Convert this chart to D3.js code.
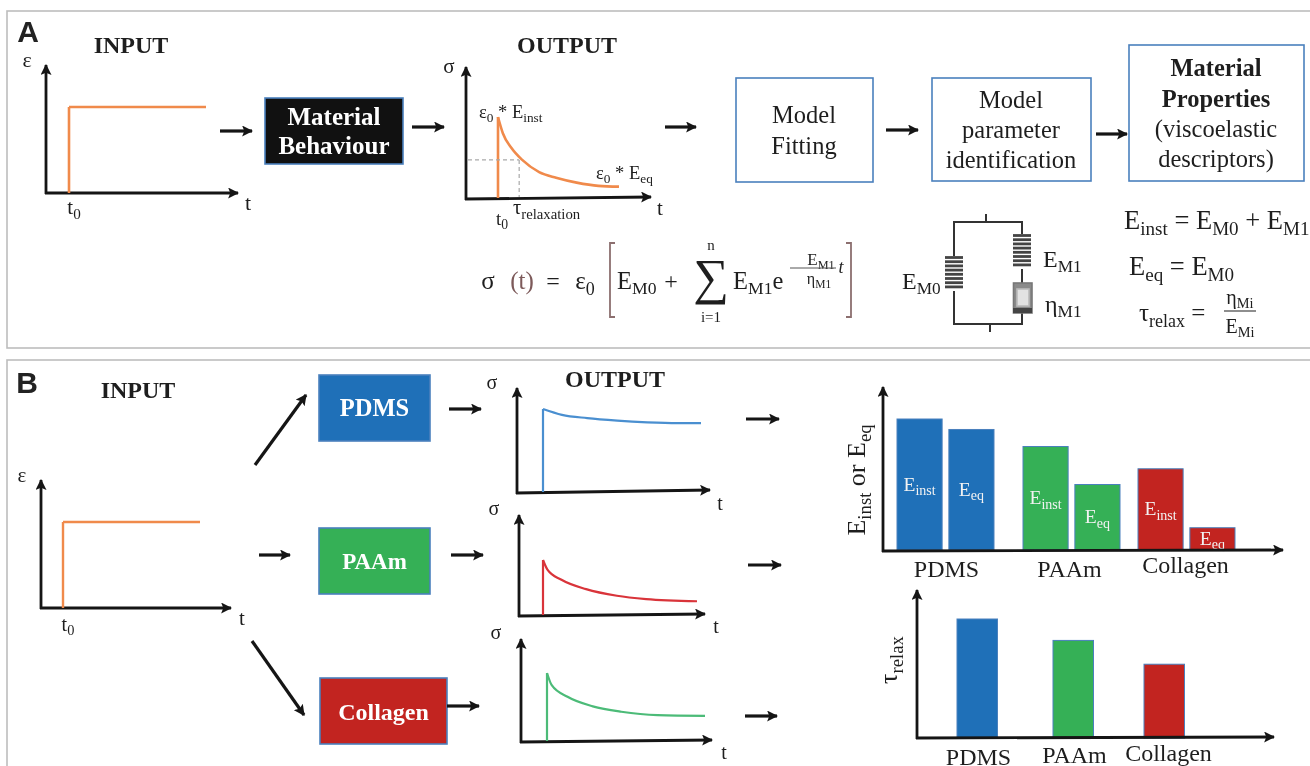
<!DOCTYPE html>
<html>
<head>
<meta charset="utf-8">
<script src="https://cdn.jsdelivr.net/npm/d3@7"></script>
<style>
  html, body { margin: 0; background: #fff; overflow: hidden; }
  svg { display: block; filter: blur(0.5px); }
</style>
</head>
<body>
<div id="chart"></div>
<script>
const materials = ['PDMS', 'PAAm', 'Collagen'];
const materialColors = ['#1f70b8', '#35b056', '#c22420'];

// bar heights, percent of the tallest bar in each chart
const instValues = [100, 79, 62];
const eqValues = [92, 50, 17];
const relaxValues = [100, 82, 62];

// input step, percent of run time / strain
const stepTime = [0, 100];
const stepStrain = [100, 100];

// relaxation curves, percent of run time / peak stress
const modelTime = [0, 4, 11, 20, 34, 48, 65, 83, 100];
const modelStress = [100, 80, 62, 47, 32, 25, 19, 15, 14];
const tauTime = 17.5;
const tauStress = 47;
const pdmsTime = [0, 12, 28, 47, 66, 85, 100];
const pdmsStress = [100, 93, 89, 86, 84, 83, 83];
const paamTime = [0, 3, 12, 28, 48, 67, 100];
const paamStress = [100, 82, 64, 47, 35, 29, 25];
const collagenTime = [0, 3, 13, 29, 47, 70, 100];
const collagenStress = [100, 82, 65, 51, 43, 38, 37];

const INK = '#151515';
const TEXT = '#1e1e1e';
const ORANGE = '#f08a4b';
const BOX_EDGE = '#4a80bd';
const SERIF = '"Liberation Serif", serif';

const svg = d3.select('#chart').append('svg').attr('width', 1310).attr('height', 766);

const defs = svg.append('defs');
defs.append('marker').attr('id', 'head')
  .attr('viewBox', '0 0 10 10').attr('refX', 9).attr('refY', 5)
  .attr('markerWidth', 11).attr('markerHeight', 11)
  .attr('markerUnits', 'userSpaceOnUse').attr('orient', 'auto')
  .append('path').attr('d', 'M0,0L10,5L0,10L2,5Z').attr('fill', INK);

function arrow(x1, y1, x2, y2, width) {
  svg.append('line')
    .attr('x1', x1).attr('y1', y1).attr('x2', x2).attr('y2', y2)
    .attr('stroke', INK).attr('stroke-width', width || 3.2)
    .attr('marker-end', 'url(#head)');
}

// text with subscripts: a part is a string, or [string] for a subscript
function rich(x, y, parts, size, opts) {
  const o = opts || {};
  const text = svg.append('text')
    .attr('x', x).attr('y', y)
    .attr('font-family', o.family || SERIF)
    .attr('font-size', size)
    .attr('font-weight', o.weight || 'normal')
    .attr('text-anchor', o.anchor || 'middle')
    .attr('fill', o.fill || TEXT);
  if (o.rotate) text.attr('transform', `rotate(${o.rotate},${x},${y})`);
  const shift = size * 0.22;
  let low = false;
  [].concat(parts).forEach(part => {
    const isSub = Array.isArray(part);
    const span = text.append('tspan').text(isSub ? part[0] : part);
    if (isSub) span.attr('font-size', size * 0.72);
    if (isSub !== low) span.attr('dy', isSub ? shift : -shift);
    low = isSub;
  });
  return text;
}

function box(x0, y0, x1, y1, fill, edge) {
  svg.append('rect')
    .attr('x', x0).attr('y', y0).attr('width', x1 - x0).attr('height', y1 - y0)
    .attr('fill', fill).attr('stroke', edge || BOX_EDGE).attr('stroke-width', 1.6);
}

// panel frames, both run off the right edge
box(7, 11, 1330, 348, 'none', '#bdbdbd');
box(7, 360, 1330, 790, 'none', '#bdbdbd');
rich(28, 42, 'A', 30, { family: '"Liberation Sans", sans-serif', weight: 'bold', fill: '#222' });
rich(27, 393, 'B', 30, { family: '"Liberation Sans", sans-serif', weight: 'bold', fill: '#222' });

const line = d3.line().curve(d3.curveMonotoneX);

// small time plot: arrowed axes, then a rise at t0 followed by a curve
function timePlot(p, times, values, color) {
  arrow(p.ax, p.base + 1, p.ax, p.top, 2.8);
  arrow(p.ax - 1, p.base, p.end, p.endY, 2.8);
  const x = d3.scaleLinear([0, 100], [p.x0, p.x1]);
  const y = d3.scaleLinear([0, 100], [p.floor, p.peak]);
  svg.append('line')
    .attr('x1', x(0)).attr('x2', x(0)).attr('y1', y(0)).attr('y2', y(100))
    .attr('stroke', color).attr('stroke-width', p.width || 2.2);
  svg.append('path')
    .attr('d', line(times.map((t, i) => [x(t), y(values[i])])))
    .attr('fill', 'none').attr('stroke', color).attr('stroke-width', p.width || 2.2);
  return { x, y };
}

// ---- panel A ----
rich(131, 53, 'INPUT', 24, { weight: 'bold' });
rich(567, 53, 'OUTPUT', 24, { weight: 'bold' });

timePlot({ ax: 46, top: 65, base: 193, end: 238, endY: 193, x0: 69, x1: 206, floor: 193, peak: 107, width: 2.6 },
  stepTime, stepStrain, ORANGE);
rich(27, 67, 'ε', 22);
rich(74, 214, ['t', ['0']], 21);
rich(248, 210, 't', 22);

box(265, 98, 403, 164, '#111');
rich(334, 125, 'Material', 25, { weight: 'bold', fill: '#fff' });
rich(334, 154, 'Behaviour', 25, { weight: 'bold', fill: '#fff' });
arrow(220, 131, 252, 131);
arrow(412, 127, 444, 127);

const modelPlot = timePlot({ ax: 466, top: 67, base: 199, end: 651, endY: 197, x0: 498, x1: 619, floor: 198, peak: 117, width: 2.6 },
  modelTime, modelStress, ORANGE);
const tauX = modelPlot.x(tauTime);
const tauY = modelPlot.y(tauStress);
[[468, tauY, tauX, tauY], [tauX, tauY, tauX, 197]].forEach(d => {
  svg.append('line')
    .attr('x1', d[0]).attr('y1', d[1]).attr('x2', d[2]).attr('y2', d[3])
    .attr('stroke', '#a9a9a9').attr('stroke-width', 1.2).attr('stroke-dasharray', '4 3');
});
rich(449, 73, 'σ', 21);
rich(479, 118, ['ε', ['0'], ' * E', ['inst']], 18.5, { anchor: 'start' });
rich(596, 179, ['ε', ['0'], ' * E', ['eq']], 18.5, { anchor: 'start' });
rich(502, 225, ['t', ['0']], 19);
rich(513, 214, ['τ', ['relaxation']], 20.5, { anchor: 'start' });
rich(660, 215, 't', 21);

// equation
rich(488, 289, 'σ', 25);
rich(522, 289, '(t)', 25, { fill: '#7d5a5a' });
rich(553, 289, '=', 24);
rich(585, 289, ['ε', ['0']], 25);
const bracket = (x, dir) => svg.append('path')
  .attr('d', `M${x + dir * 5},243H${x}V317H${x + dir * 5}`)
  .attr('fill', 'none').attr('stroke', '#8c6f6f').attr('stroke-width', 1.8);
bracket(610, 1);
bracket(851, -1);
rich(617, 289, ['E', ['M0']], 24.5, { anchor: 'start' });
rich(671, 289, '+', 24);
rich(711, 294, '∑', 50);
rich(711, 250, 'n', 15);
rich(711, 322, 'i=1', 15);
rich(733, 289, ['E', ['M1'], 'e'], 24.5, { anchor: 'start' });
rich(821, 265, ['E', ['M1']], 17);
rich(819, 284, ['η', ['M1']], 16);
svg.append('line').attr('x1', 790).attr('x2', 836).attr('y1', 268).attr('y2', 268)
  .attr('stroke', '#555').attr('stroke-width', 1);
rich(841, 273, 't', 18).attr('font-style', 'italic');

// flow boxes
box(736, 78, 873, 182, '#fff');
rich(804, 123, 'Model', 24.5);
rich(804, 154, 'Fitting', 24.5);
box(932, 78, 1091, 181, '#fff');
rich(1011, 108, 'Model', 24.5);
rich(1011, 138, 'parameter', 24.5);
rich(1011, 168, 'identification', 24.5);
box(1129, 45, 1304, 181, '#fff');
rich(1216, 76, 'Material', 24.5, { weight: 'bold' });
rich(1216, 107, 'Properties', 24.5, { weight: 'bold' });
rich(1216, 137, '(viscoelastic', 24.5);
rich(1216, 167, 'descriptors)', 24.5);
arrow(665, 127, 696, 127);
arrow(886, 130, 918, 130);
arrow(1096, 134, 1127, 134);

// spring and dashpot model
const wire = d => svg.append('path').attr('d', d).attr('fill', 'none')
  .attr('stroke', '#333').attr('stroke-width', 2);
wire('M954,256V222H1022V234M986,214V222M954,291V324H1022V313M990,324V332M1022,269V283');
function spring(cx, y0, y1) {
  d3.range(y0 + 1.5, y1, 4.2).forEach(y => {
    svg.append('line').attr('x1', cx - 9).attr('x2', cx + 9).attr('y1', y).attr('y2', y)
      .attr('stroke', '#444').attr('stroke-width', 2.8);
  });
}
spring(954, 256, 291);
spring(1022, 234, 269);
box(1013.5, 283, 1032, 313, '#8a8a8a', '#777');
box(1017, 289, 1029, 306, '#e2e2e2', '#bbb');
svg.append('rect').attr('x', 1013).attr('y', 308).attr('width', 19).attr('height', 5).attr('fill', '#444');
rich(902, 289, ['E', ['M0']], 24, { anchor: 'start' });
rich(1043, 267, ['E', ['M1']], 24, { anchor: 'start' });
rich(1045, 312, ['η', ['M1']], 24, { anchor: 'start' });

// descriptor formulas
rich(1124, 229, ['E', ['inst'], ' = E', ['M0'], ' + E', ['M1']], 26.5, { anchor: 'start' });
rich(1129, 275, ['E', ['eq'], ' = E', ['M0']], 26.5, { anchor: 'start' });
rich(1139, 321, ['τ', ['relax'], ' ='], 25, { anchor: 'start' });
rich(1240, 304, ['η', ['Mi']], 20);
rich(1240, 333, ['E', ['Mi']], 20);
svg.append('line').attr('x1', 1224).attr('x2', 1256).attr('y1', 311).attr('y2', 311)
  .attr('stroke', '#444').attr('stroke-width', 1.2);

// ---- panel B ----
rich(138, 398, 'INPUT', 24, { weight: 'bold' });
rich(615, 387, 'OUTPUT', 24, { weight: 'bold' });

timePlot({ ax: 41, top: 480, base: 608, end: 231, endY: 608, x0: 63, x1: 200, floor: 608, peak: 522, width: 2.4 },
  stepTime, stepStrain, ORANGE);
rich(22, 482, 'ε', 21);
rich(68, 631, ['t', ['0']], 20);
rich(242, 625, 't', 21);

arrow(255, 465, 306, 395);
arrow(259, 555, 290, 555);
arrow(252, 641, 304, 715);

const boxLabels = [[416, 24.5], [569, 23], [720, 24]];
const boxEdges = [[319, 375, 430, 441], [319, 528, 430, 594], [320, 678, 447, 744]];
materials.forEach((m, i) => {
  const b = boxEdges[i];
  box(b[0], b[1], b[2], b[3], materialColors[i]);
  rich((b[0] + b[2]) / 2, boxLabels[i][0], m, boxLabels[i][1], { weight: 'bold', fill: '#fff' });
});
arrow(449, 409, 481, 409);
arrow(451, 555, 483, 555);
arrow(447, 706, 479, 706);

// the stress traces do not take their material's box colour in the source
timePlot({ ax: 517, top: 388, base: 493, end: 710, endY: 490, x0: 543, x1: 701, floor: 492, peak: 409 },
  pdmsTime, pdmsStress, '#4a8fd0');
timePlot({ ax: 519, top: 515, base: 616, end: 705, endY: 614, x0: 543, x1: 697, floor: 615, peak: 560 },
  paamTime, paamStress, '#d9343a');
timePlot({ ax: 521, top: 639, base: 742, end: 712, endY: 740, x0: 547, x1: 705, floor: 741, peak: 673 },
  collagenTime, collagenStress, '#4cbb78');
rich(492, 389, 'σ', 20);
rich(494, 515, 'σ', 20);
rich(496, 639, 'σ', 20);
rich(720, 510, 't', 20);
rich(716, 633, 't', 20);
rich(724, 759, 't', 20);
arrow(746, 419, 779, 419);
arrow(748, 565, 781, 565);
arrow(745, 716, 777, 716);

// modulus bars
const groupX = d3.scaleOrdinal(materials, [897, 1023, 1138]);
const pairX = d3.scaleBand(['inst', 'eq'], [0, 97]).paddingInner(0.13);
const modY = d3.scaleLinear([0, 100], [550, 419]);
const modBars = materials.flatMap((m, i) => [
  { m, i, kind: 'inst', value: instValues[i] },
  { m, i, kind: 'eq', value: eqValues[i] }
]);
svg.selectAll('.mod-bar').data(modBars).join('rect')
  .attr('class', 'mod-bar')
  .attr('x', d => groupX(d.m) + pairX(d.kind))
  .attr('y', d => modY(d.value))
  .attr('width', pairX.bandwidth())
  .attr('height', d => modY(0) - modY(d.value))
  .attr('fill', d => materialColors[d.i])
  .attr('stroke', BOX_EDGE);
modBars.forEach(d => {
  rich(groupX(d.m) + pairX(d.kind) + pairX.bandwidth() / 2,
    (modY(d.value) + modY(0)) / 2 + 6, ['E', [d.kind]], 19.5, { fill: '#f2f2f2' });
});
arrow(883, 552, 883, 387, 2.8);
arrow(882, 551, 1283, 550, 2.8);
rich(865, 480, ['E', ['inst'], ' or E', ['eq']], 26, { rotate: -90 });

// relaxation time bars
const relaxX = d3.scaleOrdinal(materials, [957, 1053, 1144]);
const relaxY = d3.scaleLinear([0, 100], [738, 619]);
svg.selectAll('.relax-bar').data(materials).join('rect')
  .attr('class', 'relax-bar')
  .attr('x', d => relaxX(d))
  .attr('y', (d, i) => relaxY(relaxValues[i]))
  .attr('width', 40.5)
  .attr('height', (d, i) => relaxY(0) - relaxY(relaxValues[i]))
  .attr('fill', (d, i) => materialColors[i])
  .attr('stroke', BOX_EDGE);
arrow(917, 739, 917, 590, 2.8);
arrow(916, 738, 1274, 737, 2.8);
rich(897, 660, ['τ', ['relax']], 26, { rotate: -90 });

// category labels through axes, with the per-label nudges of the source
function categoryAxis(scale, y, nudges) {
  const g = svg.append('g').attr('transform', `translate(0,${y})`)
    .call(d3.axisBottom(scale).tickSize(0).tickPadding(0));
  g.select('.domain').remove();
  g.selectAll('text')
    .attr('font-family', SERIF).attr('font-size', 24).attr('fill', TEXT)
    .attr('dy', 0)
    .attr('y', (d, i) => nudges[i]);
}
categoryAxis(d3.scaleOrdinal(materials, [946, 1069, 1185]), 577, [0, 0, -4]);
categoryAxis(d3.scaleOrdinal(materials, [978, 1074, 1168]), 765, [0, -2, -4]);
</script>
</body>
</html>
